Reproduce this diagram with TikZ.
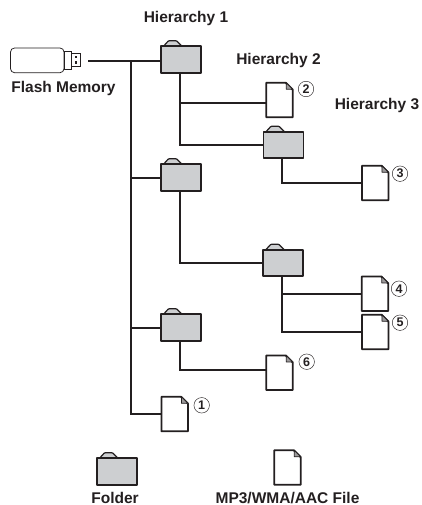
\documentclass[tikz,border=0pt]{standalone}
\usepackage{fontspec}
\setmainfont{Liberation Sans}
\tikzset{x=1pt,y=-1pt,
 line/.style={draw=ink,line width=1.8pt},
 outline/.style={draw=ink,line width=1.9pt,line join=round},
 label/.style={font=\fontsize{15.5}{17}\selectfont\bfseries,text=ink,inner sep=0pt},
 num/.style={circle,draw=ink,line width=0.45pt,minimum size=15.5pt,inner sep=0pt,font=\fontsize{12.5}{13}\selectfont\bfseries,text=ink},
 foldernode/.style={minimum width=40pt,minimum height=26.5pt,inner sep=0pt,outer sep=0pt},
 filenode/.style={minimum width=26.5pt,minimum height=34.5pt,inner sep=0pt,outer sep=0pt}}
\definecolor{ink}{HTML}{231F20}
\definecolor{foldergray}{HTML}{CDCFD1}
\newcommand{\folderat}[3]{%
 \node[foldernode] (#1) at (#2,#3) {};
 \draw[draw=ink,line width=1.2pt,fill=foldergray,line join=round,rounded corners=0.8pt] ([xshift=2.5pt]#1.north west) -- ++(5,-5.5) -- ++(8,0) -- ++(5.5,5.5);
 \draw[outline,fill=foldergray] (#1.south west) -- (#1.north west) -- (#1.north east) -- (#1.south east) -- cycle;
}
\newcommand{\fileat}[3]{%
 \node[filenode] (#1) at (#2,#3) {};
 \draw[outline,fill=white] (#1.south west) -- (#1.north west) -- ([xshift=-7pt]#1.north east) -- ([yshift=-7pt]#1.north east) -- (#1.south east) -- cycle;
 \draw[draw=ink,line width=0.9pt,fill=ink!45,line join=round] ([xshift=-6.5pt]#1.north east) -- ([xshift=-6.5pt,yshift=-6.5pt]#1.north east) -- ([yshift=-6.5pt]#1.north east) -- cycle;
}
\begin{document}
\begin{tikzpicture}
\useasboundingbox (0,0) rectangle (422,505);
\coordinate (start) at (88.3,61);
\coordinate (trunktop) at (131,61);
\coordinate (trunkb) at (131,177.7);
\coordinate (trunkc) at (131,328);
\coordinate (dropa) at (180,72);
\coordinate (dropb) at (180,191);
\coordinate (dropc) at (180,340);
\coordinate (tapa) at (180,102.7);
\coordinate (dropd) at (282,158);
\coordinate (drope) at (282,276);
\coordinate (tape) at (282,293.7);
\coordinate (tapf) at (282,332.3);
\coordinate (endf) at (362,332.3);
\coordinate (endc) at (266,370.3);
\folderat{fa}{181}{59.5}
\folderat{fb}{181}{177.5}
\folderat{fc}{181}{327.5}
\folderat{sa}{283.5}{145}
\folderat{sb}{283.3}{263}
\fileat{fta}{279.5}{100}
\fileat{ftb}{375.2}{183}
\fileat{ftc}{375}{293.7}
\fileat{ftd}{375.2}{332}
\fileat{fte}{279.5}{372.7}
\fileat{ftf}{174.7}{414}
\draw[line] (start) -- (start -| fa.west);
\draw[line] (trunktop) |- (ftf.west);
\draw[line] (trunkb) -- (trunkb -| fb.west);
\draw[line] (trunkc) -- (trunkc -| fc.west);
\draw[line] (dropa) |- (sa.west);
\draw[line] (tapa) -- (tapa -| fta.west);
\draw[line] (dropb) |- (sb.west);
\draw[line] (dropc) |- (endc);
\draw[line] (dropd) |- (ftb.west);
\draw[line] (drope) |- (endf);
\draw[line] (tape) -- (tape -| ftc.west);
% USB stick
\draw[draw=ink,line width=0.75pt,rounded corners=4pt] (10.5,48) rectangle (64,72.7);
\draw[draw=ink,line width=0.75pt,fill=white] (64,51.7) rectangle (71,69.3);
\draw[draw=ink,line width=0.75pt,fill=white] (71,53) rectangle (80.5,66.7);
\fill[ink] (74.5,56) rectangle (77,58.5);
\fill[ink] (74.5,61.5) rectangle (77,64);
% texts
\node[label] (hone) at (186,18.5) {Hierarchy 1};
\node[label] (htwo) at (278.5,60) {Hierarchy 2};
\node[label] (hthree) at (377,105.5) {Hierarchy 3};
\node[label] (flash) at (63.5,88) {Flash Memory};
\node[num] (na) at (306,89) {2};
\node[num] (nb) at (400,173.7) {3};
\node[num] (nc) at (399,288.7) {4};
\node[num] (nd) at (400,322.7) {5};
\node[num] (ne) at (306.7,361.7) {6};
\node[num] (nf) at (201.7,405.3) {1};
% legend
\folderat{lga}{117}{471.5}
\fileat{lgb}{287.5}{467.5}
\node[label] (lta) at (115,497.7) {Folder};
\node[label] (ltb) at (287.5,497.7) {MP3/WMA/AAC File};
\end{tikzpicture}
\end{document}
